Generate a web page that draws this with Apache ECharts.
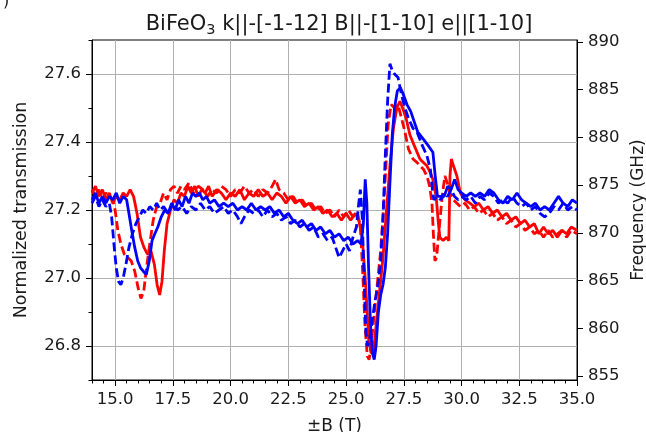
<!DOCTYPE html>
<html>
<head>
    <meta charset="utf-8">
    <title>BiFeO3</title>
    <script src="https://cdn.jsdelivr.net/npm/echarts@6/dist/echarts.min.js"></script>
    <style>
        html, body { margin: 0; padding: 0; background: #fff; }
    </style>
</head>
<body>
    <div id="main" style="width: 646px;height:432px;"></div>
    <script>
        // tick labels
        let fieldTicks = [15, 17.5, 20, 22.5, 25, 27.5, 30, 32.5, 35];
        let transTicks = [26.8, 27.0, 27.2, 27.4, 27.6];
        let freqTicks = [855, 860, 865, 870, 875, 880, 885, 890];

        // [B (T), normalized transmission]
        let redSolid = [[14.0,27.25],[14.15,27.27],[14.3,27.24],[14.45,27.26],[14.6,27.23],[14.75,27.25],[14.9,27.22],[15.05,27.24],[15.2,27.23],[15.35,27.25],[15.5,27.24],[15.65,27.26],[15.8,27.24],[15.95,27.19],[16.1,27.12],[16.25,27.09],[16.4,27.07],[16.55,27.08],[16.7,27.04],[16.82,26.98],[16.93,26.95],[17.03,26.99],[17.13,27.08],[17.25,27.16],[17.4,27.2],[17.55,27.23],[17.7,27.22],[17.85,27.25],[18.0,27.24],[18.15,27.27],[18.3,27.25],[18.45,27.27],[18.6,27.24],[18.75,27.26],[18.9,27.25],[19.05,27.27],[19.2,27.24],[19.4,27.26],[19.6,27.25],[19.8,27.23],[20.0,27.25],[20.2,27.24],[20.4,27.26],[20.6,27.23],[20.8,27.25],[21.0,27.24],[21.2,27.26],[21.4,27.24],[21.6,27.25],[21.8,27.23],[22.0,27.25],[22.2,27.24],[22.4,27.22],[22.6,27.24],[22.8,27.22],[23.0,27.23],[23.2,27.21],[23.4,27.22],[23.6,27.2],[23.8,27.21],[24.0,27.19],[24.2,27.2],[24.4,27.18],[24.6,27.19],[24.8,27.17],[25.0,27.19],[25.2,27.17],[25.4,27.19],[25.55,27.17],[25.7,27.12],[25.85,26.98],[25.98,26.82],[26.08,26.78],[26.18,26.78],[26.3,26.86],[26.45,26.96],[26.6,27.06],[26.75,27.2],[26.9,27.33],[27.05,27.44],[27.2,27.5],[27.33,27.52],[27.45,27.5],[27.6,27.47],[27.77,27.42],[27.95,27.39],[28.2,27.35],[28.35,27.34],[28.5,27.33],[28.65,27.31],[28.76,27.29],[28.9,27.24],[29.0,27.16],[29.06,27.12],[29.2,27.11],[29.35,27.12],[29.45,27.11],[29.5,27.3],[29.56,27.35],[29.65,27.33],[29.8,27.3],[29.95,27.25],[30.15,27.23],[30.36,27.22],[30.55,27.21],[30.75,27.22],[30.95,27.2],[31.15,27.21],[31.35,27.19],[31.55,27.2],[31.75,27.18],[31.95,27.19],[32.15,27.17],[32.35,27.18],[32.55,27.16],[32.75,27.17],[32.95,27.15],[33.15,27.16],[33.35,27.13],[33.55,27.15],[33.75,27.13],[33.95,27.14],[34.15,27.12],[34.35,27.14],[34.55,27.13],[34.75,27.15],[35.0,27.14]];

        let redDashed = [[14.0,27.26],[14.15,27.24],[14.3,27.26],[14.45,27.23],[14.6,27.25],[14.75,27.24],[14.9,27.23],[15.0,27.2],[15.12,27.14],[15.25,27.1],[15.4,27.07],[15.55,27.06],[15.7,27.05],[15.85,27.02],[16.0,26.97],[16.12,26.94],[16.24,26.96],[16.36,27.03],[16.5,27.1],[16.65,27.17],[16.8,27.21],[16.95,27.22],[17.1,27.25],[17.25,27.23],[17.4,27.26],[17.55,27.27],[17.7,27.25],[17.85,27.27],[18.0,27.26],[18.2,27.28],[18.4,27.25],[18.6,27.27],[18.8,27.26],[19.0,27.24],[19.2,27.26],[19.4,27.25],[19.6,27.27],[19.8,27.26],[20.0,27.24],[20.2,27.26],[20.4,27.25],[20.6,27.27],[20.8,27.25],[21.0,27.26],[21.2,27.24],[21.4,27.26],[21.6,27.25],[21.8,27.27],[21.95,27.29],[22.1,27.26],[22.3,27.25],[22.5,27.23],[22.7,27.24],[22.9,27.22],[23.1,27.23],[23.3,27.21],[23.5,27.22],[23.7,27.2],[23.9,27.21],[24.1,27.19],[24.3,27.2],[24.5,27.18],[24.7,27.2],[24.9,27.18],[25.1,27.2],[25.3,27.18],[25.5,27.19],[25.62,27.15],[25.72,27.02],[25.82,26.86],[25.92,26.77],[26.0,26.76],[26.08,26.8],[26.2,26.88],[26.35,26.98],[26.5,27.08],[26.62,27.2],[26.72,27.32],[26.82,27.45],[26.95,27.51],[27.1,27.5],[27.25,27.51],[27.4,27.47],[27.55,27.43],[27.7,27.38],[27.9,27.35],[28.07,27.34],[28.2,27.33],[28.35,27.32],[28.5,27.3],[28.62,27.27],[28.72,27.22],[28.78,27.13],[28.85,27.05],[28.92,27.06],[29.0,27.12],[29.08,27.18],[29.18,27.25],[29.28,27.3],[29.38,27.28],[29.5,27.25],[29.65,27.23],[29.8,27.22],[29.95,27.21],[30.15,27.22],[30.35,27.2],[30.55,27.21],[30.75,27.19],[30.95,27.2],[31.15,27.18],[31.35,27.19],[31.55,27.17],[31.75,27.18],[31.95,27.16],[32.15,27.17],[32.35,27.15],[32.55,27.16],[32.75,27.14],[32.95,27.15],[33.15,27.13],[33.35,27.14],[33.55,27.12],[33.75,27.14],[33.95,27.12],[34.15,27.13],[34.35,27.14],[34.55,27.12],[34.75,27.14],[35.0,27.13]];

        let blueSolid = [[14.0,27.23],[14.15,27.25],[14.3,27.22],[14.45,27.24],[14.6,27.22],[14.75,27.24],[14.9,27.23],[15.05,27.25],[15.2,27.22],[15.35,27.24],[15.5,27.23],[15.6,27.19],[15.72,27.14],[15.85,27.09],[15.98,27.05],[16.1,27.03],[16.22,27.02],[16.35,27.01],[16.48,27.05],[16.6,27.11],[16.72,27.13],[16.85,27.15],[17.0,27.18],[17.15,27.2],[17.3,27.19],[17.45,27.22],[17.6,27.2],[17.75,27.23],[17.9,27.21],[18.05,27.24],[18.2,27.22],[18.35,27.25],[18.5,27.24],[18.65,27.25],[18.8,27.23],[18.95,27.24],[19.1,27.22],[19.3,27.23],[19.5,27.21],[19.7,27.22],[19.9,27.21],[20.1,27.22],[20.3,27.2],[20.5,27.21],[20.7,27.2],[20.9,27.22],[21.1,27.2],[21.3,27.21],[21.5,27.2],[21.7,27.21],[21.9,27.19],[22.1,27.2],[22.3,27.18],[22.5,27.19],[22.7,27.17],[22.9,27.16],[23.1,27.17],[23.3,27.15],[23.5,27.16],[23.7,27.14],[23.9,27.15],[24.1,27.13],[24.3,27.14],[24.5,27.12],[24.7,27.13],[24.9,27.11],[25.1,27.12],[25.3,27.1],[25.5,27.11],[25.65,27.1],[25.75,27.16],[25.83,27.29],[25.9,27.22],[25.98,27.02],[26.06,26.86],[26.14,26.78],[26.22,26.76],[26.3,26.8],[26.4,26.9],[26.5,26.95],[26.6,26.98],[26.7,27.03],[26.8,27.13],[26.9,27.28],[27.0,27.42],[27.1,27.5],[27.22,27.55],[27.35,27.56],[27.48,27.54],[27.64,27.51],[27.8,27.49],[27.95,27.46],[28.1,27.43],[28.33,27.41],[28.55,27.39],[28.76,27.37],[28.86,27.3],[28.96,27.24],[29.1,27.24],[29.25,27.24],[29.4,27.27],[29.55,27.26],[29.7,27.29],[29.85,27.26],[30.0,27.25],[30.2,27.24],[30.4,27.25],[30.6,27.24],[30.8,27.25],[31.0,27.24],[31.2,27.26],[31.4,27.25],[31.6,27.23],[31.8,27.22],[32.0,27.24],[32.2,27.23],[32.4,27.25],[32.6,27.23],[32.8,27.22],[33.0,27.21],[33.2,27.22],[33.4,27.2],[33.6,27.21],[33.8,27.2],[34.0,27.22],[34.2,27.24],[34.4,27.22],[34.6,27.21],[34.8,27.23],[35.0,27.22]];

        let blueDashed = [[14.0,27.22],[14.15,27.24],[14.3,27.21],[14.45,27.23],[14.6,27.21],[14.75,27.22],[14.85,27.18],[14.95,27.1],[15.05,27.03],[15.15,26.99],[15.25,26.98],[15.35,27.0],[15.47,27.04],[15.6,27.09],[15.75,27.13],[15.9,27.16],[16.05,27.18],[16.2,27.2],[16.35,27.19],[16.5,27.21],[16.65,27.2],[16.8,27.22],[16.95,27.2],[17.1,27.21],[17.3,27.19],[17.5,27.22],[17.7,27.2],[17.9,27.21],[18.1,27.19],[18.3,27.21],[18.5,27.2],[18.7,27.22],[18.9,27.2],[19.1,27.21],[19.3,27.19],[19.5,27.2],[19.7,27.21],[19.9,27.19],[20.1,27.2],[20.3,27.18],[20.45,27.16],[20.6,27.18],[20.8,27.2],[21.0,27.19],[21.2,27.2],[21.4,27.18],[21.6,27.2],[21.8,27.18],[22.0,27.19],[22.2,27.17],[22.4,27.18],[22.6,27.16],[22.8,27.17],[23.0,27.15],[23.2,27.16],[23.4,27.14],[23.6,27.15],[23.8,27.12],[24.0,27.13],[24.2,27.11],[24.4,27.12],[24.55,27.09],[24.7,27.06],[24.85,27.08],[25.0,27.1],[25.15,27.08],[25.3,27.12],[25.45,27.15],[25.55,27.22],[25.62,27.26],[25.7,27.18],[25.78,27.0],[25.86,26.84],[25.93,26.8],[26.02,26.82],[26.12,26.87],[26.25,26.93],[26.38,26.98],[26.5,27.05],[26.6,27.18],[26.7,27.36],[26.8,27.52],[26.9,27.63],[27.0,27.61],[27.1,27.6],[27.25,27.59],[27.4,27.54],[27.55,27.5],[27.7,27.47],[27.9,27.44],[28.07,27.43],[28.3,27.39],[28.5,27.36],[28.65,27.32],[28.74,27.26],[28.8,27.23],[28.95,27.24],[29.1,27.23],[29.25,27.25],[29.4,27.24],[29.55,27.26],[29.7,27.24],[29.85,27.23],[30.0,27.24],[30.2,27.23],[30.4,27.24],[30.6,27.22],[30.8,27.24],[31.0,27.23],[31.2,27.25],[31.4,27.24],[31.6,27.22],[31.8,27.23],[32.0,27.22],[32.2,27.24],[32.4,27.22],[32.6,27.21],[32.8,27.22],[33.0,27.2],[33.2,27.21],[33.4,27.19],[33.6,27.18],[33.8,27.19],[34.0,27.21],[34.2,27.2],[34.4,27.22],[34.6,27.2],[34.8,27.21],[35.0,27.2]];

        let font = 'DejaVu Sans';
        let textColor = '#1a1a1a';
        let gridColor = '#b0b0b0';

        // plot box (px) and scale
        let plotLeft = 92, plotRight = 69, plotTop = 40, plotBottom = 52;
        let pxPerTesla = (646 - plotLeft - plotRight) / (35 - 14);
        let pxPerUnit = (432 - plotTop - plotBottom) / (27.7 - 26.7);

        function line(name, data, color, dashed) {
            return {
                name: name,
                type: 'line',
                xAxisIndex: 0,
                yAxisIndex: 0,
                data: data,
                symbol: 'none',
                smooth: false,
                lineStyle: {
                    color: color,
                    width: 2.8,
                    type: dashed ? [9, 4] : 'solid'
                }
            };
        }

        let hidden = { axisLine: { show: false }, axisTick: { show: false }, axisLabel: { show: false }, splitLine: { show: false } };

        let myChart = echarts.init(document.getElementById('main'), null, { renderer: 'canvas' });

        let option = {
            animation: false,
            backgroundColor: '#fff',
            title: {
                text: '{a|BiFeO}{s|3}{a| k||-[-1-12] B||-[1-10] e||[1-10]}',
                left: 334,
                top: 7,
                textAlign: 'center',
                textStyle: {
                    fontWeight: 'normal',
                    rich: {
                        a: { fontFamily: font, fontSize: 21, fontWeight: 'normal', color: textColor, lineHeight: 25 },
                        s: { fontFamily: font, fontSize: 14.5, fontWeight: 'normal', color: textColor, lineHeight: 25, padding: [11, 0, 0, 0] }
                    }
                }
            },
            graphic: [{
                type: 'text',
                left: 3,
                top: -6,
                style: { text: ')', font: '16px "DejaVu Sans"', fill: textColor }
            }],
            grid: [{
                // main plot
                left: plotLeft, right: plotRight, top: plotTop, bottom: plotBottom,
                show: true, borderColor: '#000', borderWidth: 1,
                containLabel: false, outerBoundsMode: 'none'
            }, {
                // vertical grid lines: same scale, starts at 12.5 T so ticks fall on 15, 17.5 ...
                left: plotLeft - 1.5 * pxPerTesla, right: plotRight, top: plotTop, bottom: plotBottom,
                containLabel: false, outerBoundsMode: 'none'
            }, {
                // horizontal grid lines: same scale, starts at 26.6 so ticks fall on 26.8, 27.0 ...
                left: plotLeft, right: plotRight, top: plotTop, bottom: plotBottom - 0.1 * pxPerUnit,
                containLabel: false, outerBoundsMode: 'none'
            }],
            xAxis: [{
                type: 'value',
                gridIndex: 0,
                position: 'bottom',
                min: 14,
                max: 35,
                interval: 0.5,
                name: '±B (T)',
                nameLocation: 'middle',
                nameGap: 38,
                nameTextStyle: { fontFamily: font, fontSize: 17, color: textColor },
                axisLine: { show: true, lineStyle: { color: '#000', width: 1 } },
                axisTick: { show: true, customValues: fieldTicks, length: 6, lineStyle: { color: '#000' } },
                axisLabel: {
                    customValues: fieldTicks,
                    margin: 11,
                    fontFamily: font, fontSize: 16.5, color: textColor,
                    formatter: function (v) { return v.toFixed(1); }
                },
                splitLine: { show: false }
            }, {
                type: 'value',
                gridIndex: 0,
                position: 'bottom',
                min: 14,
                max: 35,
                interval: 0.5,
                axisLine: { show: false },
                axisTick: { show: true, length: 3.5, lineStyle: { color: '#000' } },
                axisLabel: { show: false },
                splitLine: { show: false }
            }, Object.assign({
                type: 'value', gridIndex: 1, min: 12.5, max: 35, interval: 2.5
            }, hidden, {
                splitLine: { show: true, showMinLine: false, showMaxLine: false, lineStyle: { color: gridColor, width: 1 } }
            }), Object.assign({
                type: 'value', gridIndex: 2, min: 14, max: 35
            }, hidden)],
            yAxis: [{
                type: 'value',
                gridIndex: 0,
                position: 'left',
                min: 26.7,
                max: 27.7,
                interval: 0.1,
                name: 'Normalized transmission',
                nameLocation: 'middle',
                nameRotate: 90,
                nameGap: 62,
                nameTextStyle: { fontFamily: font, fontSize: 17.5, color: textColor },
                axisLine: { show: true, lineStyle: { color: '#000', width: 1 } },
                axisTick: { show: true, customValues: transTicks, length: 6, lineStyle: { color: '#000' } },
                axisLabel: {
                    customValues: transTicks,
                    margin: 11,
                    fontFamily: font, fontSize: 16.5, color: textColor,
                    formatter: function (v) { return v.toFixed(1); }
                },
                splitLine: { show: false }
            }, {
                type: 'value',
                gridIndex: 0,
                position: 'right',
                min: 854.6,
                max: 890.2,
                name: 'Frequency (GHz)',
                nameLocation: 'middle',
                nameRotate: 90,
                nameGap: 51,
                nameTextStyle: { fontFamily: font, fontSize: 17, color: textColor },
                axisLine: { show: true, lineStyle: { color: '#000', width: 1 } },
                axisTick: { show: true, customValues: freqTicks, length: 6, lineStyle: { color: '#000' } },
                axisLabel: {
                    customValues: freqTicks,
                    margin: 11,
                    fontFamily: font, fontSize: 16.5, color: textColor
                },
                splitLine: { show: false }
            }, {
                type: 'value',
                gridIndex: 0,
                position: 'left',
                min: 26.7,
                max: 27.7,
                interval: 0.1,
                axisLine: { show: false },
                axisTick: { show: true, length: 3.5, lineStyle: { color: '#000' } },
                axisLabel: { show: false },
                splitLine: { show: false }
            }, Object.assign({
                type: 'value', gridIndex: 1, min: 26.7, max: 27.7
            }, hidden), Object.assign({
                type: 'value', gridIndex: 2, min: 26.6, max: 27.7, interval: 0.2
            }, hidden, {
                splitLine: { show: true, showMinLine: false, showMaxLine: false, lineStyle: { color: gridColor, width: 1 } }
            })],
            series: [
                line('red solid', redSolid, '#ff0000', false),
                line('red dashed', redDashed, '#ff0000', true),
                line('blue solid', blueSolid, '#0000ff', false),
                line('blue dashed', blueDashed, '#0000ff', true)
            ]
        };

        myChart.setOption(option);
    </script>
</body>
</html>
